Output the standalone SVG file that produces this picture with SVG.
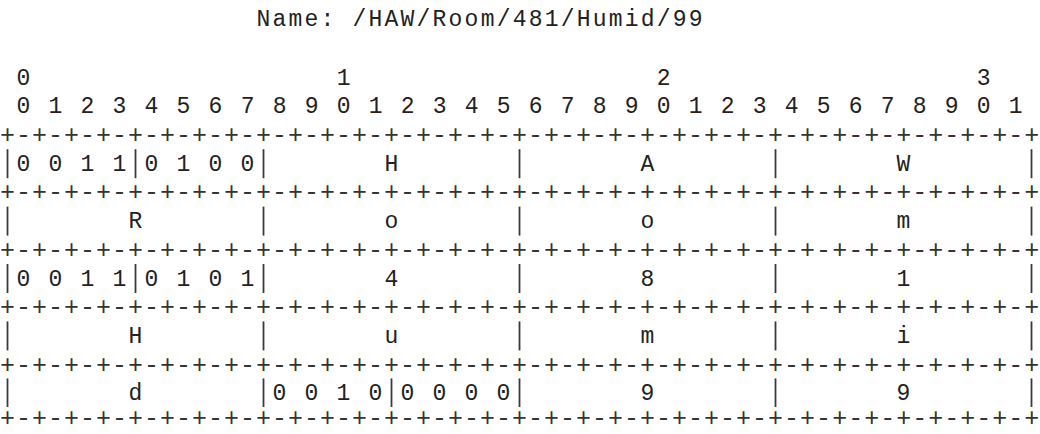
<svg xmlns="http://www.w3.org/2000/svg" width="1040" height="434" viewBox="0 0 1040 434">
<style>
text{font-family:"Liberation Mono","Courier New",monospace;font-size:23px;letter-spacing:2.2px;fill:#222;white-space:pre}
text.b{font-size:25px;letter-spacing:1px;fill:#333}
.bar{stroke:#3a3a3a;stroke-width:1.8}
</style>
<rect width="1040" height="434" fill="#fff"/>
<g transform="translate(-6.5,0)">
<g id="title"><text x="263.1" y="25.5">Name: /HAW/Room/481/Humid/99</text></g>
<g id="ruler">
<text x="23.1" y="84.9">0                   1                   2                   3</text>
<text x="23.1" y="113.3">0 1 2 3 4 5 6 7 8 9 0 1 2 3 4 5 6 7 8 9 0 1 2 3 4 5 6 7 8 9 0 1</text>
</g>
<g id="borders">
<text class="b" x="6.5" y="143">+-+-+-+-+-+-+-+-+-+-+-+-+-+-+-+-+-+-+-+-+-+-+-+-+-+-+-+-+-+-+-+-+</text>
<text class="b" x="6.5" y="200.4">+-+-+-+-+-+-+-+-+-+-+-+-+-+-+-+-+-+-+-+-+-+-+-+-+-+-+-+-+-+-+-+-+</text>
<text class="b" x="6.5" y="257.8">+-+-+-+-+-+-+-+-+-+-+-+-+-+-+-+-+-+-+-+-+-+-+-+-+-+-+-+-+-+-+-+-+</text>
<text class="b" x="6.5" y="315.2">+-+-+-+-+-+-+-+-+-+-+-+-+-+-+-+-+-+-+-+-+-+-+-+-+-+-+-+-+-+-+-+-+</text>
<text class="b" x="6.5" y="372.6">+-+-+-+-+-+-+-+-+-+-+-+-+-+-+-+-+-+-+-+-+-+-+-+-+-+-+-+-+-+-+-+-+</text>
<text class="b" x="6.5" y="426.3">+-+-+-+-+-+-+-+-+-+-+-+-+-+-+-+-+-+-+-+-+-+-+-+-+-+-+-+-+-+-+-+-+</text>
</g>
<g id="bars">
<line class="bar" x1="14" y1="149.2" x2="14" y2="178.2"/>
<line class="bar" x1="142" y1="149.2" x2="142" y2="178.2"/>
<line class="bar" x1="270" y1="149.2" x2="270" y2="178.2"/>
<line class="bar" x1="526" y1="149.2" x2="526" y2="178.2"/>
<line class="bar" x1="782" y1="149.2" x2="782" y2="178.2"/>
<line class="bar" x1="1038" y1="149.2" x2="1038" y2="178.2"/>
<line class="bar" x1="14" y1="206.6" x2="14" y2="235.6"/>
<line class="bar" x1="270" y1="206.6" x2="270" y2="235.6"/>
<line class="bar" x1="526" y1="206.6" x2="526" y2="235.6"/>
<line class="bar" x1="782" y1="206.6" x2="782" y2="235.6"/>
<line class="bar" x1="1038" y1="206.6" x2="1038" y2="235.6"/>
<line class="bar" x1="14" y1="264" x2="14" y2="293"/>
<line class="bar" x1="142" y1="264" x2="142" y2="293"/>
<line class="bar" x1="270" y1="264" x2="270" y2="293"/>
<line class="bar" x1="526" y1="264" x2="526" y2="293"/>
<line class="bar" x1="782" y1="264" x2="782" y2="293"/>
<line class="bar" x1="1038" y1="264" x2="1038" y2="293"/>
<line class="bar" x1="14" y1="321.4" x2="14" y2="350.4"/>
<line class="bar" x1="270" y1="321.4" x2="270" y2="350.4"/>
<line class="bar" x1="526" y1="321.4" x2="526" y2="350.4"/>
<line class="bar" x1="782" y1="321.4" x2="782" y2="350.4"/>
<line class="bar" x1="1038" y1="321.4" x2="1038" y2="350.4"/>
<line class="bar" x1="14" y1="378.4" x2="14" y2="407"/>
<line class="bar" x1="270" y1="378.4" x2="270" y2="407"/>
<line class="bar" x1="398" y1="378.4" x2="398" y2="407"/>
<line class="bar" x1="526" y1="378.4" x2="526" y2="407"/>
<line class="bar" x1="782" y1="378.4" x2="782" y2="407"/>
<line class="bar" x1="1038" y1="378.4" x2="1038" y2="407"/>
</g>
<g id="row1">
<g id="f-0011a"><text x="23.1" y="171">0 0 1 1</text></g>
<g id="f-0100"><text x="151.1" y="171">0 1 0 0</text></g>
<g id="f-H1"><text x="391.1" y="171">H</text></g>
<g id="f-A"><text x="647.1" y="171">A</text></g>
<g id="f-W"><text x="903.1" y="171">W</text></g>
</g>
<g id="row2">
<g id="f-R"><text x="135.1" y="228.4">R</text></g>
<g id="f-o1"><text x="391.1" y="228.4">o</text></g>
<g id="f-o2"><text x="647.1" y="228.4">o</text></g>
<g id="f-m1"><text x="903.1" y="228.4">m</text></g>
</g>
<g id="row3">
<g id="f-0011b"><text x="23.1" y="285.8">0 0 1 1</text></g>
<g id="f-0101"><text x="151.1" y="285.8">0 1 0 1</text></g>
<g id="f-4"><text x="391.1" y="285.8">4</text></g>
<g id="f-8"><text x="647.1" y="285.8">8</text></g>
<g id="f-1"><text x="903.1" y="285.8">1</text></g>
</g>
<g id="row4">
<g id="f-H2"><text x="135.1" y="343.2">H</text></g>
<g id="f-u"><text x="391.1" y="343.2">u</text></g>
<g id="f-m2"><text x="647.1" y="343.2">m</text></g>
<g id="f-i"><text x="903.1" y="343.2">i</text></g>
</g>
<g id="row5">
<g id="f-d"><text x="135.1" y="400">d</text></g>
<g id="f-0010"><text x="279.1" y="400">0 0 1 0</text></g>
<g id="f-0000"><text x="407.1" y="400">0 0 0 0</text></g>
<g id="f-9a"><text x="647.1" y="400">9</text></g>
<g id="f-9b"><text x="903.1" y="400">9</text></g>
</g>
</g>
</svg>
